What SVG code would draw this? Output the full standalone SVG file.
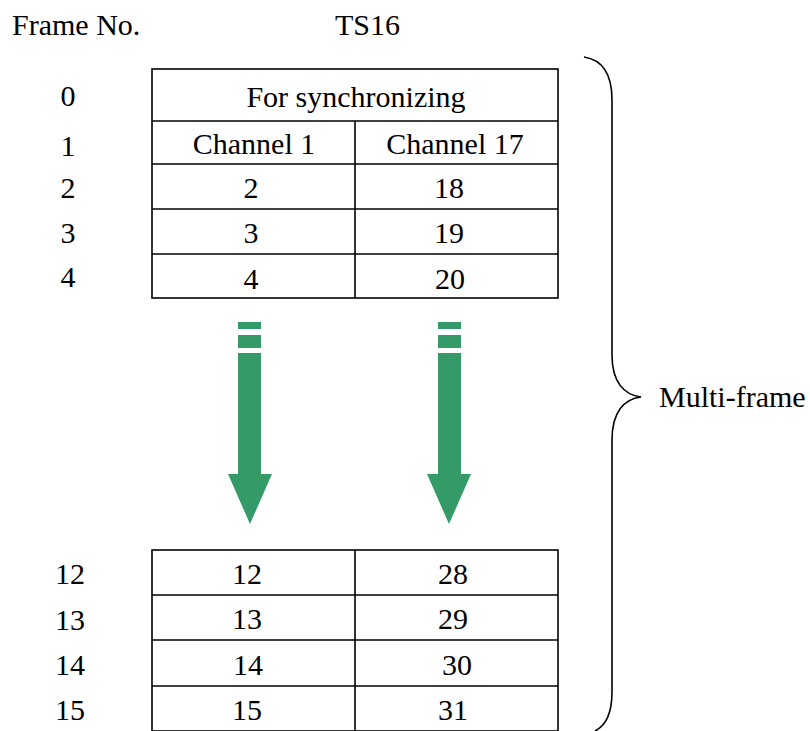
<svg xmlns="http://www.w3.org/2000/svg" width="810" height="731" viewBox="0 0 810 731">
<style>
text{font-family:'Liberation Serif','DejaVu Serif',serif;font-size:30px;fill:#000}
.c{text-anchor:middle}
.ln{stroke:#000;stroke-width:1.6;fill:none}
.ar{fill:#349a68}
</style>
<rect width="810" height="731" fill="#fff"/>
<g id="header">
<text x="12" y="35">Frame No.</text>
<text x="335" y="35">TS16</text>
</g>
<g id="frame-numbers">
<text class="c" x="68" y="106">0</text>
<text class="c" x="68" y="156">1</text>
<text class="c" x="68" y="198">2</text>
<text class="c" x="68" y="243">3</text>
<text class="c" x="68" y="287">4</text>
<text class="c" x="70" y="584">12</text>
<text class="c" x="70" y="630">13</text>
<text class="c" x="70" y="675">14</text>
<text class="c" x="70" y="720">15</text>
</g>
<g id="top-table">
<rect class="ln" x="152" y="69" width="406" height="229"/>
<line class="ln" x1="152" y1="121" x2="558" y2="121"/>
<line class="ln" x1="152" y1="164" x2="558" y2="164"/>
<line class="ln" x1="152" y1="209" x2="558" y2="209"/>
<line class="ln" x1="152" y1="254" x2="558" y2="254"/>
<line class="ln" x1="355" y1="121" x2="355" y2="298"/>
<text class="c" x="356" y="107">For synchronizing</text>
<text class="c" x="254" y="154">Channel 1</text>
<text class="c" x="455" y="154">Channel 17</text>
<text class="c" x="251" y="198">2</text>
<text class="c" x="449" y="198">18</text>
<text class="c" x="251" y="243">3</text>
<text class="c" x="449" y="243">19</text>
<text class="c" x="251" y="289">4</text>
<text class="c" x="450" y="289">20</text>
</g>
<g id="bottom-table">
<rect class="ln" x="152" y="550" width="406" height="181"/>
<line class="ln" x1="152" y1="595" x2="558" y2="595"/>
<line class="ln" x1="152" y1="640" x2="558" y2="640"/>
<line class="ln" x1="152" y1="686" x2="558" y2="686"/>
<line class="ln" x1="355" y1="550" x2="355" y2="731"/>
<text class="c" x="247" y="584">12</text>
<text class="c" x="453" y="584">28</text>
<text class="c" x="247" y="629">13</text>
<text class="c" x="453" y="629">29</text>
<text class="c" x="248" y="675">14</text>
<text class="c" x="457" y="675">30</text>
<text class="c" x="247" y="720">15</text>
<text class="c" x="453" y="720">31</text>
</g>
<g id="connectors">
<g id="arrow-left">
<rect class="ar" x="238" y="322" width="23" height="7"/>
<rect class="ar" x="238" y="335" width="23" height="13"/>
<polygon class="ar" points="238,353 261,353 261,474 272,474 250,524 228,474 238,474"/>
</g>
<g id="arrow-right">
<rect class="ar" x="438" y="322" width="23" height="7"/>
<rect class="ar" x="438" y="335" width="23" height="13"/>
<polygon class="ar" points="438,353 461,353 461,474 471,474 449,524 427,474 438,474"/>
</g>
</g>
<g id="brace">
<path class="ln" d="M584,57 C604,60 612,75 612,100 L612,355 C612,382 624,395 641,397 C624,399 612,412 612,440 L612,692 C612,714 605,726 595,731"/>
<text x="659" y="407">Multi-frame</text>
</g>
</svg>
